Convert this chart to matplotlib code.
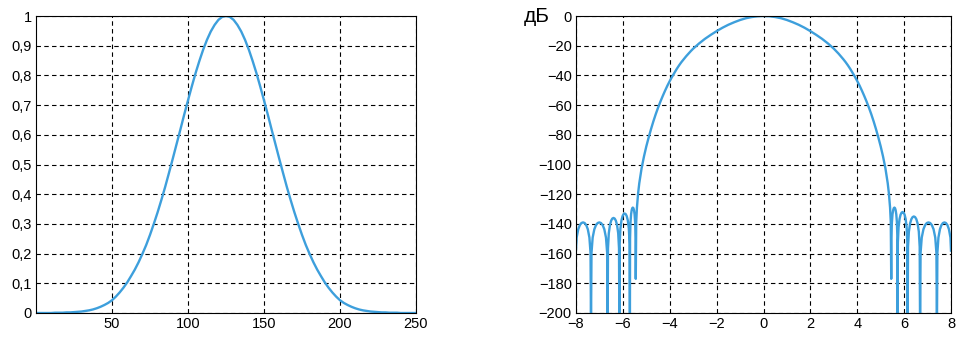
import matplotlib.pyplot as plt
import numpy as np

plt.rcParams['font.family'] = ['Liberation Sans', 'DejaVu Sans']

# window (left panel), sampled every 2.5 samples from 0 to 250
win_x = np.linspace(0, 250, 101)
win_y = [0.000, 0.000, 0.000, 0.000, 0.000, 0.001, 0.001, 0.001, 0.002, 0.002,
         0.003, 0.004, 0.005, 0.007, 0.009, 0.012, 0.016, 0.021, 0.027, 0.034,
         0.043, 0.055, 0.069, 0.085, 0.103, 0.124, 0.146, 0.171, 0.199, 0.229,
         0.263, 0.300, 0.339, 0.381, 0.425, 0.472, 0.520, 0.569, 0.618, 0.668,
         0.716, 0.763, 0.808, 0.849, 0.887, 0.920, 0.948, 0.970, 0.987, 0.997,
         1.000,
         0.997, 0.987, 0.970, 0.948, 0.920, 0.887, 0.849, 0.808, 0.763, 0.716,
         0.668, 0.618, 0.569, 0.520, 0.472, 0.425, 0.381, 0.339, 0.300, 0.263,
         0.229, 0.199, 0.171, 0.146, 0.124, 0.103, 0.085, 0.069, 0.055, 0.043,
         0.034, 0.027, 0.021, 0.016, 0.012, 0.009, 0.007, 0.005, 0.004, 0.003,
         0.002, 0.002, 0.001, 0.001, 0.001, 0.000, 0.000, 0.000, 0.000, 0.000]

# spectrum in dB (right panel): side lobes left, main lobe, side lobes right
spec_x = [-8.000, -7.972, -7.904, -7.836, -7.768, -7.700, -7.632, -7.564, -7.496, -7.428, -7.380, -7.360,
          -7.339, -7.289, -7.218, -7.147, -7.076, -7.005, -6.934, -6.863, -6.792, -6.721, -6.671, -6.650,
          -6.635, -6.600, -6.550, -6.500, -6.450, -6.400, -6.350, -6.300, -6.250, -6.200, -6.165, -6.150,
          -6.137, -6.105, -6.060, -6.015, -5.970, -5.925, -5.880, -5.835, -5.790, -5.745, -5.714, -5.700,
          -5.693, -5.675, -5.650, -5.625, -5.600, -5.575, -5.550, -5.525, -5.500, -5.475, -5.458, -5.450,
          -5.43, -5.40, -5.35, -5.30, -5.20, -5.10, -5.00, -4.90, -4.80, -4.70, -4.60, -4.50,
          -4.40, -4.30, -4.20, -4.10, -4.00, -3.90, -3.80, -3.70, -3.60, -3.50, -3.40, -3.30,
          -3.20, -3.10, -3.00, -2.75, -2.50, -2.25, -2.00, -1.75, -1.50, -1.25, -1.00, -0.75,
          -0.50, -0.25, 0.00,
          0.25, 0.50, 0.75, 1.00, 1.25, 1.50, 1.75, 2.00, 2.25, 2.50, 2.75, 3.00,
          3.10, 3.20, 3.30, 3.40, 3.50, 3.60, 3.70, 3.80, 3.90, 4.00, 4.10, 4.20,
          4.30, 4.40, 4.50, 4.60, 4.70, 4.80, 4.90, 5.00, 5.10, 5.20, 5.30, 5.35, 5.40, 5.43,
          5.450, 5.458, 5.477, 5.504, 5.531, 5.558, 5.585, 5.612, 5.639, 5.666, 5.693, 5.712, 5.720,
          5.733, 5.763, 5.806, 5.849, 5.892, 5.935, 5.978, 6.021, 6.064, 6.107, 6.137, 6.150,
          6.166, 6.203, 6.256, 6.309, 6.362, 6.415, 6.468, 6.521, 6.574, 6.627, 6.664, 6.680,
          6.702, 6.752, 6.824, 6.896, 6.968, 7.040, 7.112, 7.184, 7.256, 7.328, 7.378, 7.400,
          7.419, 7.464, 7.528, 7.592, 7.656, 7.720, 7.784, 7.848, 7.912, 7.976, 8.000]
spec_y = [-157, -149.2, -143.6, -140.8, -139.4, -139, -139.4, -140.8, -143.6, -149.2, -159.5, -210,
          -159.5, -149.2, -143.6, -140.8, -139.4, -139, -139.4, -140.8, -143.6, -149.2, -159.5, -210,
          -156.5, -146.2, -140.6, -137.8, -136.4, -136, -136.4, -137.8, -140.6, -146.2, -156.5, -210,
          -153.5, -143.2, -137.6, -134.8, -133.4, -133, -133.4, -134.8, -137.6, -143.2, -153.5, -210,
          -149.5, -139.2, -133.6, -130.8, -129.4, -129, -129.4, -130.8, -133.6, -139.2, -149.5, -177,
          -138.5, -129, -119.4, -112.6, -102.4, -94.6, -87.8, -81.8, -76.2, -71.0, -66.2, -61.8,
          -57.7, -53.9, -50.3, -46.9, -43.8, -40.9, -38.2, -35.6, -33.2, -31.0, -29.0, -27.1,
          -25.3, -23.6, -22.0, -18.5, -15.4, -12.7, -10.2, -7.9, -5.9, -4.2, -2.7, -1.5,
          -0.7, -0.17, 0,
          -0.17, -0.7, -1.5, -2.7, -4.2, -5.9, -7.9, -10.2, -12.7, -15.4, -18.5, -22.0,
          -23.6, -25.3, -27.1, -29.0, -31.0, -33.2, -35.6, -38.2, -40.9, -43.8, -46.9, -50.3,
          -53.9, -57.7, -61.8, -66.2, -71.0, -76.2, -81.8, -87.8, -94.6, -102.4, -112.6, -119.4, -129, -138.5,
          -177, -149.5, -139.2, -133.6, -130.8, -129.4, -129, -129.4, -130.8, -133.6, -139.2, -149.5, -210,
          -152.5, -142.2, -136.6, -133.8, -132.4, -132, -132.4, -133.8, -136.6, -142.2, -152.5, -210,
          -155.5, -145.2, -139.6, -136.8, -135.4, -135, -135.4, -136.8, -139.6, -145.2, -155.5, -210,
          -159.5, -149.2, -143.6, -140.8, -139.4, -139, -139.4, -140.8, -143.6, -149.2, -159.5, -210,
          -159.5, -149.2, -143.6, -140.8, -139.4, -139, -139.4, -140.8, -143.6, -149.2, -158]

win_xticks = [50, 100, 150, 200, 250]
win_yticks = [0, 0.1, 0.2, 0.3, 0.4, 0.5, 0.6, 0.7, 0.8, 0.9, 1]
win_ylabels = ['0', '0,1', '0,2', '0,3', '0,4', '0,5', '0,6', '0,7', '0,8', '0,9', '1']
spec_xticks = [-8, -6, -4, -2, 0, 2, 4, 6, 8]
spec_yticks = [0, -20, -40, -60, -80, -100, -120, -140, -160, -180, -200]

blue = '#3d9fdc'

fig = plt.figure(figsize=(9.69, 3.41), dpi=100)
ax1 = fig.add_axes([36 / 969, 28 / 341, 380 / 969, 297 / 341])
ax2 = fig.add_axes([576 / 969, 28 / 341, 375 / 969, 297 / 341])

ax1.plot(win_x, win_y, color=blue, linewidth=1.7)
ax1.set_xlim(0, 250)
ax1.set_ylim(0, 1)
ax1.set_xticks(win_xticks)
ax1.set_yticks(win_yticks)
ax1.set_yticklabels(win_ylabels)

ax2.plot(spec_x, spec_y, color=blue, linewidth=1.7)
ax2.set_xlim(-8, 8)
ax2.set_ylim(-200, 0)
ax2.set_xticks(spec_xticks)
ax2.set_xticklabels([str(v).replace('-', '\u2212') for v in spec_xticks])
ax2.set_yticks(spec_yticks)
ax2.set_yticklabels([str(v).replace('-', '\u2212') for v in spec_yticks])
fig.text(524 / 969, 1 - 17 / 341, 'дБ', fontsize=15, ha='left', va='center')

for ax in (ax1, ax2):
    ax.grid(True, color='black', linestyle=(0, (4, 3)), linewidth=0.8)
    ax.tick_params(length=0, labelsize=10.5, pad=3)
    for s in ax.spines.values():
        s.set_linewidth(0.8)

fig.savefig('out.png', dpi=100)
